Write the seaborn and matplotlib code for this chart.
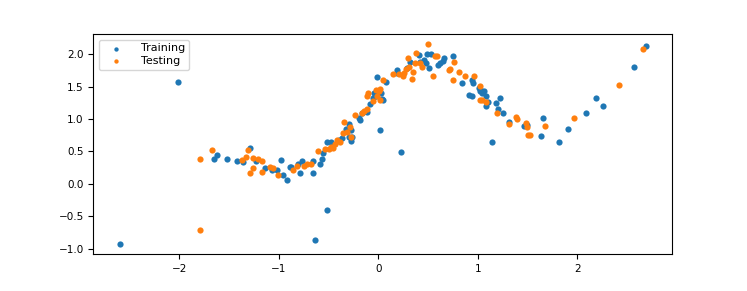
import numpy as np
import pandas as pd
import matplotlib
matplotlib.use("Agg")
import matplotlib.pyplot as plt
import seaborn as sns

# Training samples
train_x = [-2.60, -2.01, -1.65, -1.62, -1.52, -1.42, -1.36, -1.29, -1.23, -1.14,
           -1.07, -1.02, -0.98, -0.96, -0.92, -0.89, -0.88, -0.81, -0.79, -0.77,
           -0.66, -0.66, -0.64, -0.59, -0.57, -0.56, -0.52, -0.52, -0.48, -0.40,
           -0.37, -0.33, -0.30, -0.30, -0.28, -0.27, -0.26, -0.19, -0.18, -0.16,
           -0.11, -0.08, -0.05, -0.04, -0.02, -0.01, 0.02, 0.03, 0.04, 0.05,
           0.08, 0.19, 0.19, 0.23, 0.29, 0.32, 0.41, 0.42, 0.46, 0.48,
           0.49, 0.51, 0.53, 0.60, 0.62, 0.65, 0.66, 0.75, 0.84, 0.91,
           0.94, 0.94, 0.95, 1.01, 1.02, 1.04, 1.06, 1.04, 1.08, 1.10,
           1.08, 1.14, 1.18, 1.22, 1.20, 1.25, 1.31, 1.46, 1.49, 1.63,
           1.65, 1.82, 1.91, 2.09, 2.19, 2.26, 2.57, 2.69]
train_y = [-0.93, 1.57, 0.38, 0.45, 0.39, 0.35, 0.33, 0.56, 0.36, 0.25,
           0.22, 0.22, 0.37, 0.13, 0.06, 0.26, 0.26, 0.31, 0.16, 0.35,
           0.36, 0.17, -0.87, 0.30, 0.39, 0.48, 0.64, -0.40, 0.64, 0.67,
           0.71, 0.84, 0.92, 0.73, 0.83, 0.66, 0.72, 1.02, 0.99, 1.10,
           1.11, 1.24, 1.33, 1.41, 1.36, 1.65, 0.83, 1.40, 1.31, 1.29,
           1.57, 1.76, 1.72, 0.49, 1.79, 1.88, 1.99, 1.89, 1.92, 1.87,
           2.01, 1.79, 2.01, 1.84, 1.87, 1.90, 1.94, 1.97, 1.56, 1.38,
           1.36, 1.61, 1.56, 1.48, 1.43, 1.44, 1.43, 1.40, 1.36, 1.27,
           1.21, 0.65, 1.25, 1.33, 1.16, 1.10, 0.95, 0.90, 0.91, 0.74,
           1.01, 0.65, 0.85, 1.10, 1.32, 1.20, 1.81, 2.13]

# Testing samples
test_x = [-1.79, -1.79, -1.67, -1.37, -1.33, -1.31, -1.26, -1.26, -1.29, -1.21,
          -1.17, -1.17, -1.09, -1.06, -1.01, -0.86, -0.82, -0.75, -0.72, -0.68,
          -0.61, -0.54, -0.50, -0.48, -0.46, -0.44, -0.42, -0.39, -0.36, -0.35,
          -0.32, -0.29, -0.28, -0.23, -0.16, -0.14, -0.11, -0.11, -0.10, -0.05,
          -0.02, -0.01, 0.01, 0.02, 0.02, 0.05, 0.15, 0.21, 0.25, 0.26,
          0.28, 0.30, 0.31, 0.34, 0.35, 0.37, 0.38, 0.42, 0.44, 0.50,
          0.55, 0.57, 0.59, 0.71, 0.72, 0.76, 0.75, 0.81, 0.87, 0.96,
          1.02, 1.02, 1.04, 1.08, 1.19, 1.31, 1.38, 1.39, 1.48, 1.49,
          1.50, 1.52, 1.67, 1.97, 2.42, 2.66]
test_y = [0.39, -0.71, 0.53, 0.37, 0.42, 0.52, 0.40, 0.25, 0.16, 0.38,
          0.36, 0.19, 0.26, 0.25, 0.13, 0.22, 0.28, 0.27, 0.31, 0.30,
          0.50, 0.54, 0.54, 0.57, 0.56, 0.62, 0.67, 0.65, 0.78, 0.95,
          0.80, 0.88, 0.72, 1.07, 1.10, 1.13, 1.15, 1.36, 1.40, 1.28,
          1.45, 1.35, 1.43, 1.47, 1.29, 1.61, 1.70, 1.69, 1.67, 1.72,
          1.77, 1.94, 1.81, 1.62, 1.73, 1.86, 2.02, 1.87, 1.81, 2.16,
          1.66, 1.97, 1.97, 1.76, 1.78, 1.88, 1.61, 1.73, 1.66, 1.66,
          1.51, 1.29, 1.29, 1.26, 1.10, 0.93, 1.03, 1.00, 0.94, 0.88,
          0.76, 0.76, 0.89, 1.01, 1.53, 2.09]

plt.rcParams['font.size'] = 7.5

fig, ax = plt.subplots(figsize=(7.47, 2.91), dpi=100)
fig.subplots_adjust(left=0.125, right=0.9, top=0.883, bottom=0.127)

sns.scatterplot(x=train_x, y=train_y, color='tab:blue', s=20, linewidth=0,
                label='Training', ax=ax)
sns.scatterplot(x=test_x, y=test_y, color='tab:orange', s=20, linewidth=0,
                label='Testing', ax=ax)

ax.legend(loc='upper left', fontsize=8, markerscale=0.7,
          handlelength=2.4, handletextpad=1.0,
          labelspacing=0.25, borderpad=0.35)

plt.savefig('out.png', dpi=100)
plt.close()
